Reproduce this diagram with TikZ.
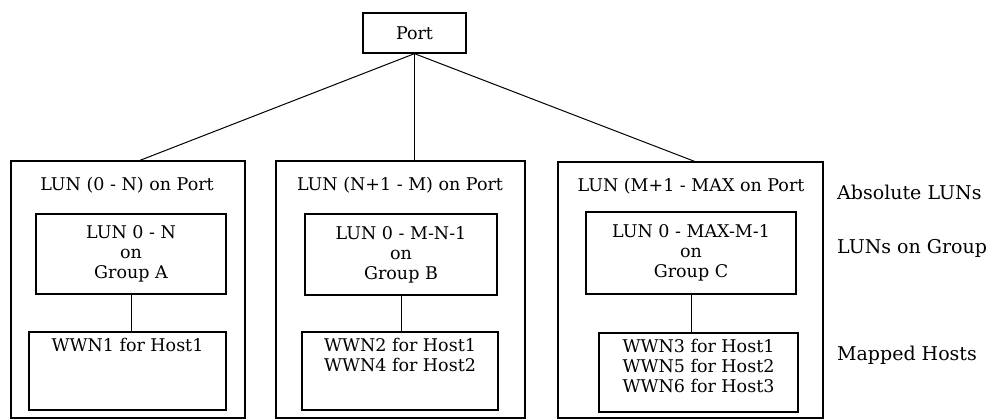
\documentclass[tikz,border=0pt]{standalone}
\usepackage{fontspec}
\setmainfont{DejaVu Serif}
\usetikzlibrary{positioning}

\begin{document}
\begin{tikzpicture}[x=1pt, y=-1pt,
        every node/.style={font=\fontsize{17.5}{20}\selectfont},
        box/.style={rectangle, draw=black, line width=1.3pt, inner sep=0pt, align=center},
        txt/.style={align=center, inner sep=0pt},
        side/.style={anchor=west, inner sep=0pt, font=\fontsize{19}{20}\selectfont},
        link/.style={draw=black, line width=1pt},
    ]
        \useasboundingbox (0,0) rectangle (998,420);

        \node[box, minimum width=103pt, minimum height=40pt] (port) at (414.5,33) {Port};

        \node[box, minimum width=234pt, minimum height=257pt] (absA) at (128,289.5) {};
        \node[box, minimum width=249pt, minimum height=257pt] (absB) at (400.5,289.5) {};
        \node[box, minimum width=265pt, minimum height=256pt] (absC) at (690.5,290) {};

        \node[txt] (titleA) at (127,185) {LUN (0 - N) on Port};
        \node[txt] (titleB) at (400,185) {LUN (N+1 -  M) on Port};
        \node[txt] (titleC) at (691,186) {LUN (M+1 - MAX on Port};

        \node[box, minimum width=190pt, minimum height=80pt] (grpA) at (131,254) {LUN 0 -  N\\on\\Group A};
        \node[box, minimum width=192pt, minimum height=81pt] (grpB) at (401,254.5) {LUN 0 -  M-N-1\\on\\Group B};
        \node[box, minimum width=210pt, minimum height=82pt] (grpC) at (691,253) {LUN 0 - MAX-M-1\\on\\Group C};

        \node[box, minimum width=197pt, minimum height=78pt] (hostA) at (127.5,371) {};
        \node[box, minimum width=196pt, minimum height=78pt] (hostB) at (400,371) {};
        \node[box, minimum width=199pt, minimum height=79pt] (hostC) at (698.5,372.5) {};

        \node[txt, below=7pt of hostA.north] (listA) {WWN1 for Host1};
        \node[txt, below=7pt of hostB.north] (listB) {WWN2 for Host1\\WWN4 for Host2};
        \node[txt, below=7pt of hostC.north] (listC) {WWN3 for Host1\\WWN5 for Host2\\WWN6 for Host3};

        \node[side] (absolute) at (837,192) {Absolute LUNs};
        \node[side] (ongroup) at (837,248) {LUNs on Group};
        \node[side] (mapped) at (837,355) {Mapped Hosts};

        \draw[link] (port.south) -- ([xshift=12pt]absA.north);
        \draw[link] (port.south) -- (port.south |- absB.north);
        \draw[link] (port.south) -- ([xshift=4pt]absC.north);

        \draw[link] (grpA.south) -- (grpA.south |- hostA.north);
        \draw[link] (grpB.south) -- (grpB.south |- hostB.north);
        \draw[link] (grpC.south) -- (grpC.south |- hostC.north);

    \end{tikzpicture}
\end{document}
